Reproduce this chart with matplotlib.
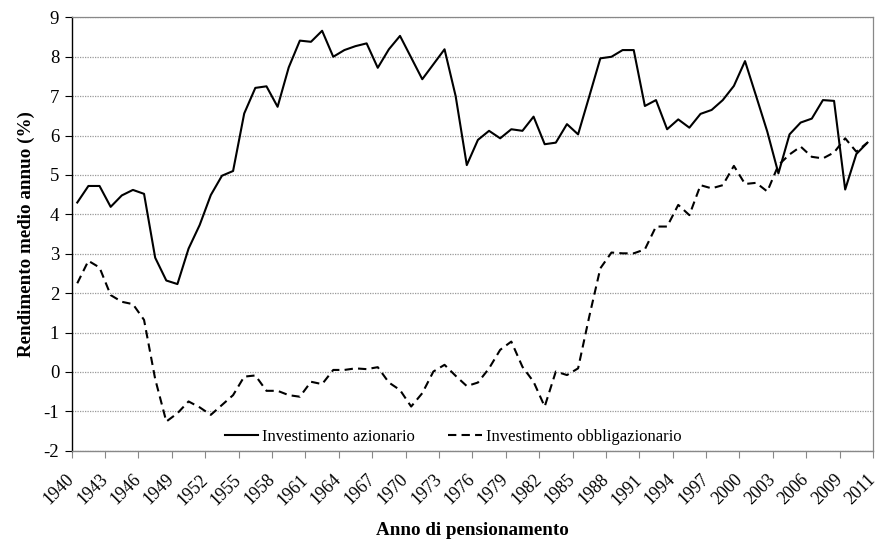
import matplotlib
matplotlib.use("Agg")
import matplotlib.pyplot as plt
import numpy as np

years = list(range(1940, 2012))
azionario = [4.30, 4.72, 4.72, 4.19, 4.48, 4.62, 4.52, 2.90, 2.32, 2.23,
             3.13, 3.73, 4.49, 4.98, 5.10, 6.56, 7.21, 7.25, 6.73, 7.73,
             8.41, 8.38, 8.66, 8.00, 8.17, 8.27, 8.34, 7.72, 8.19, 8.53,
             7.98, 7.43, 7.81, 8.19, 7.00, 5.25, 5.89, 6.12, 5.93, 6.16,
             6.12, 6.48, 5.78, 5.82, 6.29, 6.03, 6.99, 7.96, 8.00, 8.17,
             8.17, 6.75, 6.90, 6.16, 6.41, 6.20, 6.55, 6.65, 6.90, 7.26,
             7.89, 7.00, 6.10, 5.04, 6.03, 6.33, 6.43, 6.90, 6.88, 4.63,
             5.53, 5.82]
obbligazionario = [2.25, 2.82, 2.65, 1.95, 1.78, 1.72, 1.32, -0.18, -1.26, -1.05,
                   -0.75, -0.90, -1.09, -0.84, -0.59, -0.12, -0.09, -0.48, -0.48, -0.59,
                   -0.63, -0.25, -0.31, 0.05, 0.05, 0.09, 0.07, 0.12, -0.27, -0.46,
                   -0.88, -0.54, 0.01, 0.18, -0.10, -0.36, -0.27, 0.09, 0.56, 0.77,
                   0.13, -0.25, -0.88, 0.01, -0.08, 0.09, 1.40, 2.63, 3.03, 3.01,
                   3.01, 3.11, 3.69, 3.69, 4.24, 3.98, 4.74, 4.66, 4.74, 5.23,
                   4.77, 4.80, 4.58, 5.25, 5.52, 5.72, 5.46, 5.42, 5.57, 5.93,
                   5.59, 5.82]
tick_labels = ["1940", "1943", "1946", "1949", "1952", "1955", "1958", "1961",
               "1964", "1967", "1970", "1973", "1976", "1979", "1982", "1985",
               "1988", "1991", "1994", "1997", "2000", "2003", "2006", "2009", "2011"]
y_ticks = list(range(-2, 10))

plt.rcParams['font.family'] = ['Liberation Serif', 'DejaVu Serif']

fig = plt.figure(figsize=(8.82, 5.43), dpi=100)
ax = fig.add_axes([0.0813, 0.170, 0.9085, 0.798])

x = np.arange(len(years)) + 0.5
ax.plot(x, azionario, color='black', lw=1.5, label='Investimento azionario')
ax.plot(x, obbligazionario, color='black', lw=1.5, dashes=(4, 2.5),
        label='Investimento obbligazionario')

ax.set_xlim(0, len(years))
ax.set_ylim(-2, 9)
ax.set_yticks(y_ticks)
ax.set_yticklabels([str(v) for v in y_ticks], fontsize=13.5)
ax.set_xticks(np.arange(0, len(tick_labels)) * 3)
ax.set_xticklabels(tick_labels, fontsize=12.8, rotation=45, ha='right',
                   va='center', rotation_mode='anchor')
ax.tick_params(axis='x', length=5, color='#888888', pad=14)
ax.tick_params(axis='y', length=5, color='black', pad=4)

ax.yaxis.grid(True, linestyle=(0, (1, 1)), color='#999999', lw=0.9)
ax.set_axisbelow(True)

for s in ['top', 'right']:
    ax.spines[s].set_color('#888888')
    ax.spines[s].set_linewidth(0.9)
ax.spines['bottom'].set_color('#888888')
ax.spines['bottom'].set_linewidth(1.0)
ax.spines['left'].set_color('black')
ax.spines['left'].set_linewidth(1.0)

ax.set_ylabel('Rendimento medio annuo (%)', fontsize=13.7, fontweight='bold', labelpad=6)
ax.set_xlabel('Anno di pensionamento', fontsize=13.7, fontweight='bold', labelpad=10)

leg = ax.legend(loc='center', bbox_to_anchor=(0.476, 0.032), ncol=2, frameon=False,
                fontsize=12, handlelength=2.0, handletextpad=0.25, columnspacing=2.0,
                borderpad=0)

fig.savefig('out.png', dpi=100)
